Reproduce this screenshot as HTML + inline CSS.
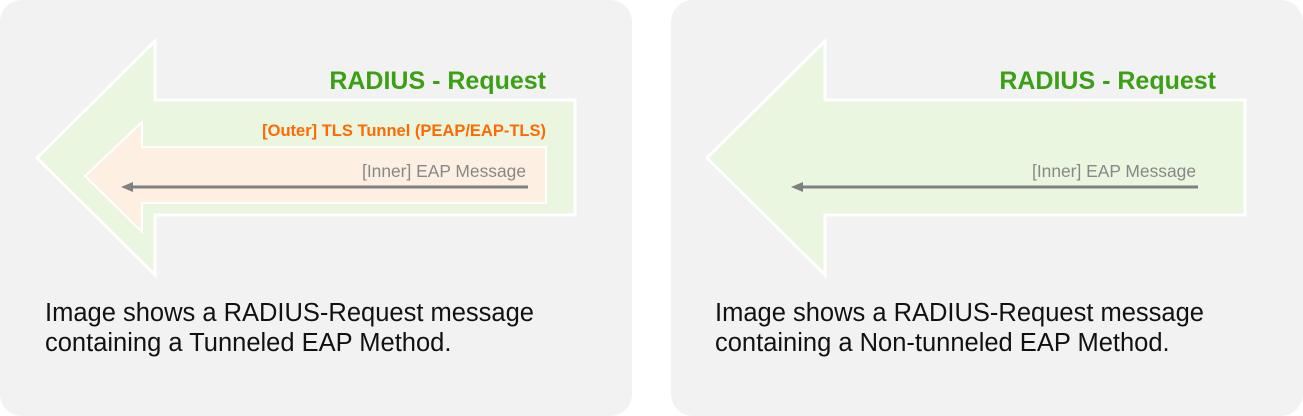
<!DOCTYPE html>
<html><head><style>
body{margin:0;width:1303px;height:416px;background:#fff;position:relative;font-family:"Liberation Sans",sans-serif;overflow:hidden}
.p{position:absolute;top:0;width:632px;height:416px;background:#f2f2f2;border-radius:22px}
.t{position:absolute;font-size:25.5px;color:#111;line-height:30px}
svg{position:absolute;left:0;top:0}
</style></head><body>
<div class="p" style="left:0"></div>
<div class="p" style="left:671px"></div>
<svg width="1303" height="416">
<polygon points="37,158 155,41 155,100 575,100 575,215 155,215 155,275" fill="#eaf6e0" stroke="#fff" stroke-width="3"/>
<polygon points="85,176 142,122 142,147 546,147 546,203 142,203 142,232" fill="#fdf0e2" stroke="#fff" stroke-width="2"/>
<line x1="528" y1="187" x2="130" y2="187" stroke="#808080" stroke-width="3"/>
<polygon points="121,187 133,182 133,192" fill="#808080"/>
<text x="546" y="89" text-anchor="end" font-size="25" font-weight="bold" fill="#3ca014" font-family="Liberation Sans">RADIUS - Request</text>
<text x="546" y="136" text-anchor="end" font-size="16.5" font-weight="bold" fill="#ff6a00" font-family="Liberation Sans">[Outer] TLS Tunnel (PEAP/EAP-TLS)</text>
<text x="526" y="177" text-anchor="end" font-size="17.4" fill="#888" font-family="Liberation Sans">[Inner] EAP Message</text>
<polygon points="707,158 825,41 825,100 1245,100 1245,215 825,215 825,275" fill="#eaf6e0" stroke="#fff" stroke-width="3"/>
<line x1="1198" y1="187" x2="800" y2="187" stroke="#808080" stroke-width="3"/>
<polygon points="791,187 803,182 803,192" fill="#808080"/>
<text x="1216" y="89" text-anchor="end" font-size="25" font-weight="bold" fill="#3ca014" font-family="Liberation Sans">RADIUS - Request</text>
<text x="1196" y="177" text-anchor="end" font-size="17.4" fill="#888" font-family="Liberation Sans">[Inner] EAP Message</text>
</svg>
<div class="t" style="left:45px;top:298px">Image shows a RADIUS-Request message<br>containing a Tunneled EAP Method.</div>
<div class="t" style="left:715px;top:298px">Image shows a RADIUS-Request message<br>containing a Non-tunneled EAP Method.</div>
</body></html>
